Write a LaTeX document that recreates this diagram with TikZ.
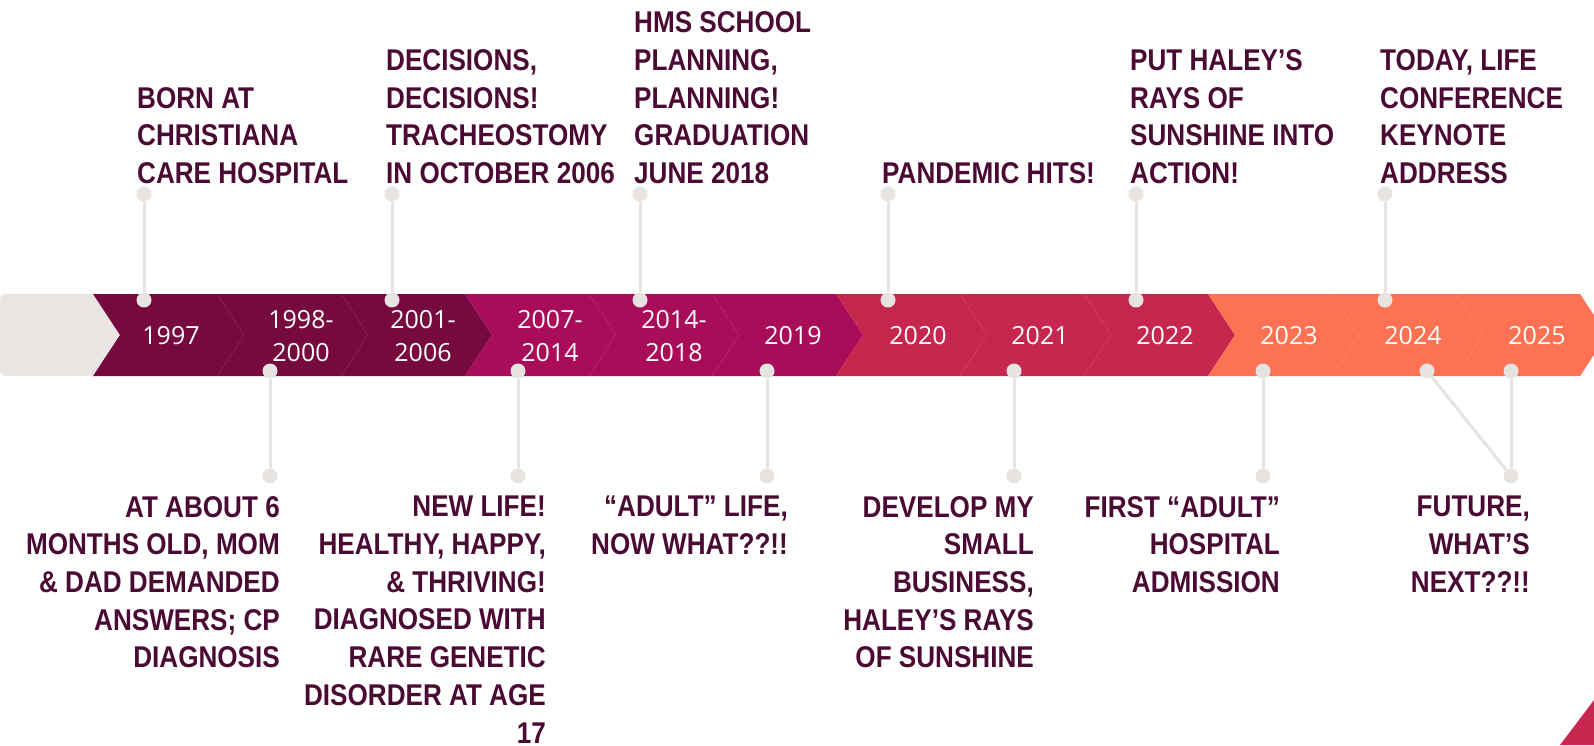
\documentclass[tikz,border=0pt]{standalone}
\usepackage{fontspec}
\setmainfont{Liberation Sans}
\newfontfamily\notefont{Liberation Sans}[FakeStretch=0.87]
\newfontfamily\yearfont{Open Sans}
\definecolor{bandgrey}{HTML}{E9E5E3}
\definecolor{dotgrey}{HTML}{E7E3E0}
\definecolor{deepwine}{HTML}{760A3E}
\definecolor{berry}{HTML}{A90D5A}
\definecolor{crimson}{HTML}{C6274F}
\definecolor{coral}{HTML}{FE7254}
\definecolor{notemaroon}{HTML}{4A0A33}

\begin{document}
\begin{tikzpicture}[x=1pt,y=-1pt,
    event dot/.style={circle,fill=dotgrey,inner sep=0pt,minimum size=15pt},
    stem/.style={draw=dotgrey,line width=3pt},
    year/.style={font=\yearfont\fontsize{25}{33}\selectfont,text=white,align=center,inner sep=0pt},
    note/.style={font=\notefont\bfseries\fontsize{30}{37.7}\selectfont,text=notemaroon,inner sep=0pt},
    top note/.style={note,anchor=south west,align=left},
    bottom note/.style={note,anchor=north east,align=right}]
                \useasboundingbox (0,0) rectangle (1594,745);
                \clip (0,0) rectangle (1594,745);

                % band of chevrons
                \fill[bandgrey, rounded corners=5] (93,376) -- (0,376) -- (0,294) [sharp corners] -- (93,294) -- (120,335) -- cycle;
                \fill[deepwine] (93,294) -- (217,294) -- (244,335) -- (217,376) -- (93,376) -- (120,335) -- cycle;
                \fill[deepwine] (217,294) -- (341,294) -- (368,335) -- (341,376) -- (217,376) -- (244,335) -- cycle;
                \fill[deepwine] (341,294) -- (465,294) -- (492,335) -- (465,376) -- (341,376) -- (368,335) -- cycle;
                \fill[berry] (465,294) -- (589,294) -- (616,335) -- (589,376) -- (465,376) -- (492,335) -- cycle;
                \fill[berry] (589,294) -- (712,294) -- (739,335) -- (712,376) -- (589,376) -- (616,335) -- cycle;
                \fill[berry] (712,294) -- (836,294) -- (863,335) -- (836,376) -- (712,376) -- (739,335) -- cycle;
                \fill[crimson] (836,294) -- (960,294) -- (987,335) -- (960,376) -- (836,376) -- (863,335) -- cycle;
                \fill[crimson] (960,294) -- (1084,294) -- (1111,335) -- (1084,376) -- (960,376) -- (987,335) -- cycle;
                \fill[crimson] (1084,294) -- (1208,294) -- (1235,335) -- (1208,376) -- (1084,376) -- (1111,335) -- cycle;
                \fill[coral] (1208,294) -- (1332,294) -- (1359,335) -- (1332,376) -- (1208,376) -- (1235,335) -- cycle;
                \fill[coral] (1332,294) -- (1456,294) -- (1483,335) -- (1456,376) -- (1332,376) -- (1359,335) -- cycle;
                \fill[coral] (1456,294) -- (1580,294) -- (1607,335) -- (1580,376) -- (1456,376) -- (1483,335) -- cycle;
                \fill[crimson] (1560,745) -- (1594,700) -- (1594,745) -- cycle;

                % years
                \node[year] at (171,336) (y1997) {1997};
                \node[year] at (301,336) (y1998) {1998-\\2000};
                \node[year] at (423,336) (y2001) {2001-\\2006};
                \node[year] at (550,336) (y2007) {2007-\\2014};
                \node[year] at (674,336) (y2014) {2014-\\2018};
                \node[year] at (793,336) (y2019) {2019};
                \node[year] at (918,336) (y2020) {2020};
                \node[year] at (1040,336) (y2021) {2021};
                \node[year] at (1165,336) (y2022) {2022};
                \node[year] at (1289,336) (y2023) {2023};
                \node[year] at (1413,336) (y2024) {2024};
                \node[year] at (1537,336) (y2025) {2025};

                % pins above
                \node[event dot] at (144,300) (dot97) {};
                \node[event dot] at (144,194) (end97) {};
                \node[event dot] at (392,300) (dot01) {};
                \node[event dot] at (392,194) (end01) {};
                \node[event dot] at (640,300) (dot14) {};
                \node[event dot] at (640,194) (end14) {};
                \node[event dot] at (888,300) (dot20) {};
                \node[event dot] at (888,194) (end20) {};
                \node[event dot] at (1136,300) (dot22) {};
                \node[event dot] at (1136,194) (end22) {};
                \node[event dot] at (1385,300) (dot24) {};
                \node[event dot] at (1385,194) (end24) {};

                % pins below
                \node[event dot] at (270,371) (dot98) {};
                \node[event dot] at (270,476) (end98) {};
                \node[event dot] at (518,371) (dot07) {};
                \node[event dot] at (518,476) (end07) {};
                \node[event dot] at (767,371) (dot19) {};
                \node[event dot] at (767,476) (end19) {};
                \node[event dot] at (1014,371) (dot21) {};
                \node[event dot] at (1014,476) (end21) {};
                \node[event dot] at (1263,371) (dot23) {};
                \node[event dot] at (1263,476) (end23) {};
                \node[event dot] at (1427,371) (low24) {};
                \node[event dot] at (1511,371) (dot25) {};
                \node[event dot] at (1511,476) (end25) {};

                \path[stem]
                    (dot97) edge (end97)
                    (dot01) edge (end01)
                    (dot14) edge (end14)
                    (dot20) edge (end20)
                    (dot22) edge (end22)
                    (dot24) edge (end24)
                    (dot98) edge (end98)
                    (dot07) edge (end07)
                    (dot19) edge (end19)
                    (dot21) edge (end21)
                    (dot23) edge (end23)
                    (low24) edge (end25)
                    (dot25) edge (end25)
                    ;

                % notes
                \node[top note] at (137,184) (born) {BORN AT\\CHRISTIANA\\CARE HOSPITAL};
                \node[top note] at (386,184) (trach) {DECISIONS,\\DECISIONS!\\TRACHEOSTOMY\\IN OCTOBER 2006};
                \node[top note] at (634,184) (hms) {HMS SCHOOL\\PLANNING,\\PLANNING!\\GRADUATION\\JUNE 2018};
                \node[top note] at (882,184) (pandemic) {PANDEMIC HITS!};
                \node[top note] at (1130,184) (rays) {PUT HALEY’S\\RAYS OF\\SUNSHINE INTO\\ACTION!};
                \node[top note] at (1380,184) (today) {TODAY, LIFE\\CONFERENCE\\KEYNOTE\\ADDRESS};

                \node[bottom note] at (280,496) (answers) {AT ABOUT 6\\MONTHS OLD, MOM\\\& DAD DEMANDED\\ANSWERS; CP\\DIAGNOSIS};
                \node[bottom note] at (546,496) (newlife) {NEW LIFE!\\HEALTHY, HAPPY,\\\& THRIVING!\\DIAGNOSED WITH\\RARE GENETIC\\DISORDER AT AGE\\17};
                \node[bottom note] at (788,496) (adult) {“ADULT” LIFE,\\NOW WHAT??!!};
                \node[bottom note] at (1034,496) (business) {DEVELOP MY\\SMALL\\BUSINESS,\\HALEY’S RAYS\\OF SUNSHINE};
                \node[bottom note] at (1280,496) (admission) {FIRST “ADULT”\\HOSPITAL\\ADMISSION};
                \node[bottom note] at (1530,496) (future) {FUTURE,\\WHAT’S\\NEXT??!!};
            \end{tikzpicture}
\end{document}
